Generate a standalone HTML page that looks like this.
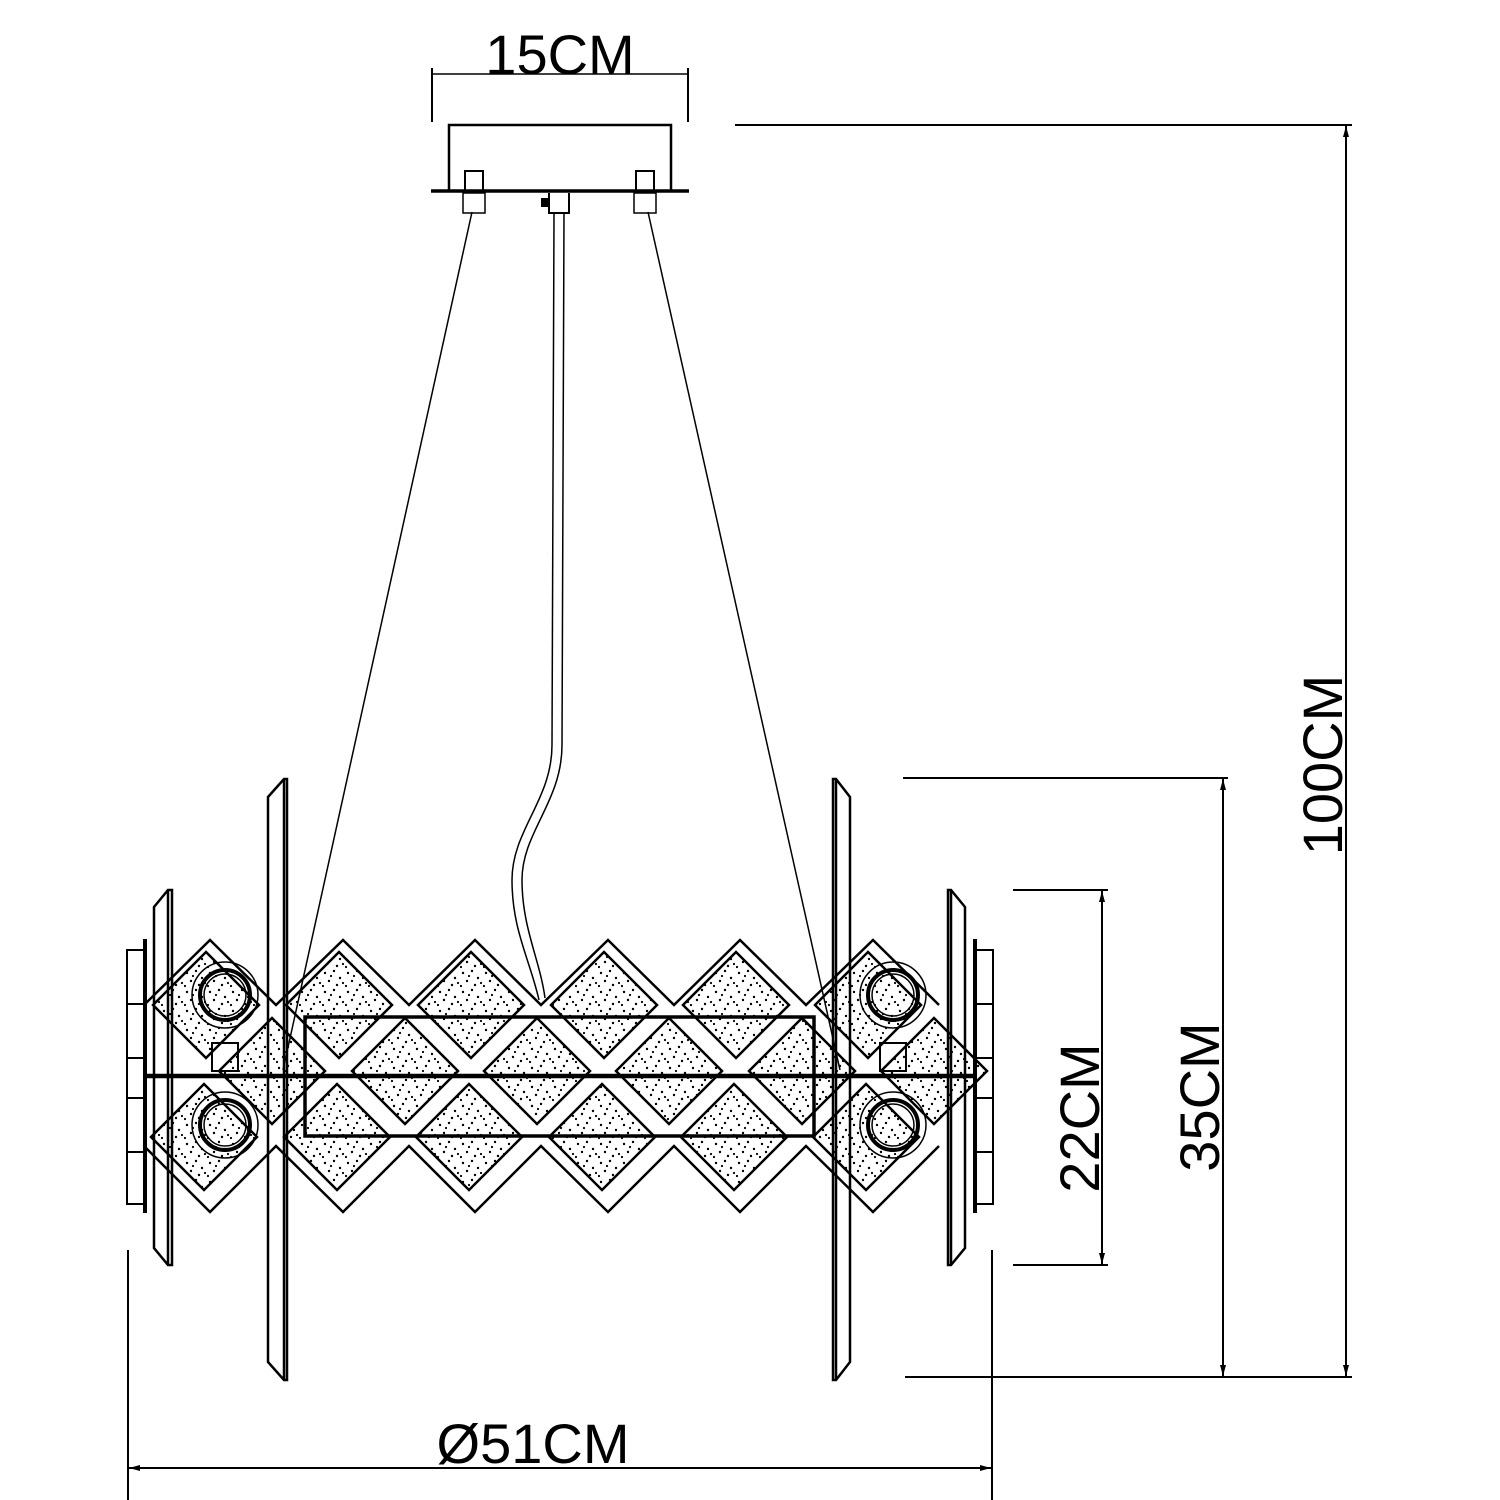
<!DOCTYPE html>
<html><head><meta charset="utf-8"><style>
html,body{margin:0;padding:0;background:#fff;}
svg{display:block;}
text{font-family:"Liberation Sans",Arial,sans-serif;font-size:56px;fill:#000;}
</style></head><body>
<svg width="1500" height="1500" viewBox="0 0 1500 1500" xmlns="http://www.w3.org/2000/svg">
<defs>
<pattern id="st" width="23" height="19" patternUnits="userSpaceOnUse">
<circle cx="3" cy="4" r="1.2" fill="#000"/><circle cx="12" cy="2" r="1.2" fill="#000"/><circle cx="18" cy="9" r="1.2" fill="#000"/><circle cx="7" cy="12" r="1.2" fill="#000"/><circle cx="15" cy="16" r="1.2" fill="#000"/><circle cx="1" cy="17" r="1.1" fill="#000"/><circle cx="21" cy="14" r="1.1" fill="#000"/><circle cx="9" cy="7" r="1.1" fill="#000"/>
</pattern>
<marker id="ar" markerWidth="12" markerHeight="8" refX="11" refY="4" orient="auto-start-reverse" markerUnits="userSpaceOnUse"><path d="M0,1 L11,4 L0,7z" fill="#000"/></marker>
</defs>
<g fill="none" stroke="#000" stroke-width="2">
<line x1="432" y1="68" x2="432" y2="122"/><line x1="688" y1="68" x2="688" y2="122"/>
<line x1="432" y1="74" x2="688" y2="74" stroke-width="1.5"/>
<rect x="449" y="125" width="222" height="66" stroke-width="2.5"/>
<line x1="431" y1="191" x2="689" y2="191" stroke-width="3.5"/>
<rect x="465" y="171" width="18" height="20"/><rect x="636" y="171" width="18" height="20"/>
<rect x="463" y="193" width="22" height="20" stroke-width="1.5"/><rect x="634" y="193" width="22" height="20" stroke-width="1.5"/>
<path d="M549,193 v20 h20 v-20"/><rect x="542" y="199" width="6" height="7" fill="#000"/>
<line x1="472" y1="212" x2="283" y2="1070" stroke-width="1.5"/>
<line x1="648" y1="212" x2="840" y2="1070" stroke-width="1.5"/>
<path d="M554,214 L552,745 C552,800 512,830 512,880 C512,930 530,960 539,1000" stroke-width="1.5"/>
<path d="M564,214 L562,745 C562,802 522,832 522,880 C522,928 540,960 545,998" stroke-width="1.5"/>
<path d="M144,1005 L210,940 L276,1005 L343,940 L409,1005 L475,940 L541,1005 L608,940 L674,1005 L740,940 L806,1005 L873,940 L939,1005" stroke-width="2.5"/>
<path d="M144,1146 L210,1212 L276,1146 L343,1212 L409,1146 L475,1212 L541,1146 L608,1212 L674,1146 L740,1212 L806,1146 L873,1212 L939,1146" stroke-width="2.5"/>
</g>
<g fill="url(#st)" stroke="#000" stroke-width="2.5">
<path d="M206,952 l53,53 l-53,53 l-53,-53z"/>
<path d="M339,952 l53,53 l-53,53 l-53,-53z"/>
<path d="M471,952 l53,53 l-53,53 l-53,-53z"/>
<path d="M604,952 l53,53 l-53,53 l-53,-53z"/>
<path d="M736,952 l53,53 l-53,53 l-53,-53z"/>
<path d="M868,952 l53,53 l-53,53 l-53,-53z"/>
<path d="M272,1018 l53,53 l-53,53 l-53,-53z"/>
<path d="M405,1018 l53,53 l-53,53 l-53,-53z"/>
<path d="M537,1018 l53,53 l-53,53 l-53,-53z"/>
<path d="M669,1018 l53,53 l-53,53 l-53,-53z"/>
<path d="M802,1018 l53,53 l-53,53 l-53,-53z"/>
<path d="M934,1018 l53,53 l-53,53 l-53,-53z"/>
<path d="M204,1084 l53,53 l-53,53 l-53,-53z"/>
<path d="M337,1084 l53,53 l-53,53 l-53,-53z"/>
<path d="M469,1084 l53,53 l-53,53 l-53,-53z"/>
<path d="M602,1084 l53,53 l-53,53 l-53,-53z"/>
<path d="M734,1084 l53,53 l-53,53 l-53,-53z"/>
<path d="M866,1084 l53,53 l-53,53 l-53,-53z"/>
</g>
<g fill="none" stroke="#000">
<rect x="305" y="1017" width="509" height="119" stroke-width="3.5"/>
<line x1="145" y1="1076" x2="975" y2="1076" stroke-width="4.5"/>
<circle cx="225" cy="995" r="33" stroke-width="1.5"/><circle cx="225" cy="995" r="25" stroke-width="4"/><circle cx="225" cy="995" r="21" stroke-width="1.5"/>
<circle cx="225" cy="1125" r="33" stroke-width="1.5"/><circle cx="225" cy="1125" r="25" stroke-width="4"/><circle cx="225" cy="1125" r="21" stroke-width="1.5"/>
<circle cx="893" cy="995" r="33" stroke-width="1.5"/><circle cx="893" cy="995" r="25" stroke-width="4"/><circle cx="893" cy="995" r="21" stroke-width="1.5"/>
<circle cx="893" cy="1125" r="33" stroke-width="1.5"/><circle cx="893" cy="1125" r="25" stroke-width="4"/><circle cx="893" cy="1125" r="21" stroke-width="1.5"/>
<rect x="212" y="1043" width="26" height="28" stroke-width="2"/><rect x="880" y="1043" width="26" height="28" stroke-width="2"/>
<path d="M268,797 L284,779 L287,779 L287,1380 L284,1380 L268,1362 Z M284,779 L284,1380" stroke-width="2.5"/>
<path d="M154,907 L168,890 L172,890 L172,1265 L168,1265 L154,1248 Z M168,890 L168,1265" stroke-width="2.5"/>
<path d="M850,797 L836,779 L833,779 L833,1380 L836,1380 L850,1362 Z M836,779 L836,1380" stroke-width="2.5"/>
<path d="M965,907 L951,890 L948,890 L948,1265 L951,1265 L965,1248 Z M951,890 L951,1265" stroke-width="2.5"/>
<rect x="127" y="950" width="18" height="254" stroke-width="2"/>
<path d="M127,1004 h18 M127,1058 h18 M127,1098 h18 M127,1152 h18" stroke-width="2"/>
<line x1="145" y1="939" x2="145" y2="1213" stroke-width="4"/>
<rect x="975" y="950" width="18" height="254" stroke-width="2"/>
<path d="M975,1004 h18 M975,1058 h18 M975,1098 h18 M975,1152 h18" stroke-width="2"/>
<line x1="975" y1="939" x2="975" y2="1213" stroke-width="4"/>
<line x1="735" y1="125" x2="1352" y2="125" stroke-width="2"/>
<line x1="905" y1="1377" x2="1352" y2="1377" stroke-width="2"/>
<line x1="1346" y1="126" x2="1346" y2="1376" stroke-width="2" marker-start="url(#ar)" marker-end="url(#ar)"/>
<line x1="903" y1="778" x2="1228" y2="778" stroke-width="2"/>
<line x1="1223" y1="779" x2="1223" y2="1376" stroke-width="2" marker-start="url(#ar)" marker-end="url(#ar)"/>
<line x1="1013" y1="890" x2="1108" y2="890" stroke-width="2"/>
<line x1="1013" y1="1265" x2="1108" y2="1265" stroke-width="2"/>
<line x1="1102" y1="891" x2="1102" y2="1264" stroke-width="2" marker-start="url(#ar)" marker-end="url(#ar)"/>
<line x1="128" y1="1250" x2="128" y2="1500" stroke-width="2"/>
<line x1="992" y1="1250" x2="992" y2="1500" stroke-width="2"/>
<line x1="129" y1="1468" x2="991" y2="1468" stroke-width="2" marker-start="url(#ar)" marker-end="url(#ar)"/>
</g>
<text x="560" y="74" text-anchor="middle">15CM</text>
<text x="533" y="1463" text-anchor="middle">Ø51CM</text>
<text transform="translate(1342,765) rotate(-90)" text-anchor="middle">100CM</text>
<text transform="translate(1219,1097) rotate(-90)" text-anchor="middle">35CM</text>
<text transform="translate(1099,1118) rotate(-90)" text-anchor="middle">22CM</text>
</svg>
</body></html>
